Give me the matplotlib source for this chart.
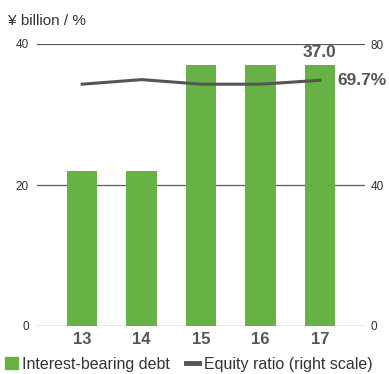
import numpy as np
import matplotlib.pyplot as plt
from matplotlib.patches import Patch
from matplotlib.lines import Line2D

years = ["13", "14", "15", "16", "17"]
debt = [22.0, 22.0, 37.0, 37.0, 37.0]
equity_ratio = [68.6, 69.9, 68.6, 68.6, 69.7]

green = "#66b245"
gray = "#555555"
plt.rcParams["font.family"] = ["Liberation Sans", "DejaVu Sans"]

fig = plt.figure(figsize=(3.89, 3.74), dpi=100)
ax = fig.add_axes([37 / 389, 1 - 326 / 374, (365 - 37) / 389, (326 - 44) / 374])
x = np.arange(len(years))

ax.bar(x, debt, width=0.51, color=green, zorder=2)
ax.set_ylim(0, 40)
ax.set_xlim(-0.76, 4.76)
ax.set_yticks([0, 20, 40])
for v in [0, 20, 40]:
    ax.axhline(v, color="#5a5a5a", lw=0.9, zorder=1)
for s in ax.spines.values():
    s.set_visible(False)
ax.tick_params(axis="y", length=0, labelsize=8.5, labelcolor="#333333", pad=6)
ax.set_xticks(x)
ax.set_xticklabels(years, fontsize=12, fontweight="bold", color=gray)
ax.tick_params(axis="x", length=0, pad=4)

ax2 = ax.twinx()
ax2.set_ylim(0, 80)
ax2.set_yticks([0, 40, 80])
for s in ax2.spines.values():
    s.set_visible(False)
ax2.tick_params(axis="y", length=0, labelsize=8.5, labelcolor="#333333", pad=4)
ax2.plot(x, equity_ratio, color=gray, lw=2.2, zorder=3)

ax.text(x[-1], debt[-1] + 0.7, f"{debt[-1]:.1f}", ha="center", va="bottom",
        fontsize=12.5, fontweight="bold", color=gray)
ax2.text(x[-1] + 0.3, equity_ratio[-1], f"{equity_ratio[-1]}%", ha="left",
         va="center", fontsize=12.5, fontweight="bold", color=gray)

fig.text(8 / 389, 1 - 21 / 374, "¥ billion / %", fontsize=11, color="#333333",
         va="center", ha="left")

handles = [Patch(color=green), Line2D([], [], color=gray, lw=3.5)]
fig.legend(handles, ["Interest-bearing debt", "Equity ratio (right scale)"],
           loc="center", bbox_to_anchor=(0.485, 1 - 364 / 374), ncol=2, frameon=False,
           fontsize=11.5, handlelength=0.8, handletextpad=0.3, columnspacing=1.0,
           labelcolor="#333333")

fig.savefig("out.png", dpi=100)
